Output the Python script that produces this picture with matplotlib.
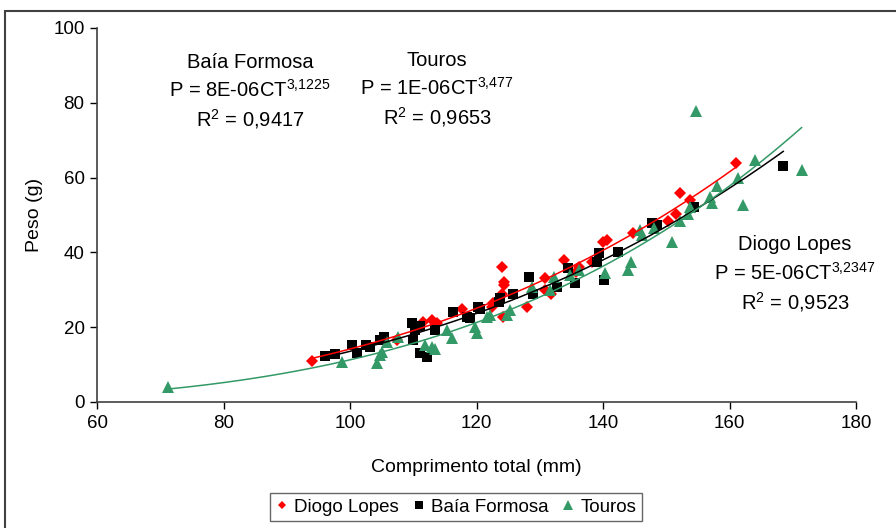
import numpy as np
import matplotlib
matplotlib.use("Agg")
import matplotlib.pyplot as plt
from matplotlib.lines import Line2D
from matplotlib.patches import Rectangle

plt.rcParams['font.family'] = ['Liberation Sans', 'DejaVu Sans']
plt.rcParams['mathtext.fontset'] = 'custom'
plt.rcParams['mathtext.rm'] = 'Liberation Sans'
plt.rcParams['mathtext.default'] = 'regular'

# ---- data ----
dl_x = [94.0, 107.4, 111.6, 112.9, 113.7, 117.7, 122.4, 122.6, 124.0, 124.3, 124.4, 124.0,
        124.2, 128.0, 130.8, 130.8, 131.8, 133.8, 136.2, 135.8, 138.3, 140.0, 140.6, 144.8,
        150.2, 151.5, 152.2, 153.8, 161.0]
dl_y = [11.0, 16.6, 21.5, 21.9, 21.0, 25.0, 25.5, 26.4, 36.2, 32.2, 31.3, 29.0,
        22.8, 25.5, 33.1, 29.9, 29.0, 38.0, 36.2, 34.8, 37.3, 42.9, 43.3, 45.3,
        48.5, 50.2, 55.8, 54.0, 63.8]

bf_x = [96.0, 97.6, 100.3, 101.1, 102.6, 103.2, 104.7, 105.3, 109.8, 110.0, 110.3, 111.0,
        111.1, 112.1, 113.4, 116.3, 118.5, 119.0, 120.3, 120.6, 123.7, 123.5, 125.8, 128.3,
        129.0, 132.7, 134.5, 135.6, 139.0, 139.3, 140.1, 142.4, 147.8, 148.5, 154.4, 168.5]
bf_y = [12.3, 12.8, 15.2, 13.0, 15.2, 14.8, 16.6, 17.3, 21.0, 16.6, 19.3, 20.4,
        13.0, 12.1, 19.3, 24.1, 22.8, 22.4, 25.5, 25.0, 27.7, 26.8, 29.0, 33.5,
        29.0, 30.8, 35.7, 31.9, 37.5, 39.8, 32.6, 40.2, 47.8, 47.3, 52.2, 63.1]

to_x = [71.3, 98.7, 104.2, 104.7, 105.0, 105.8, 107.6, 111.9, 112.9, 113.4, 115.3, 116.1,
        119.8, 120.0, 121.6, 122.1, 124.8, 125.3, 128.7, 131.6, 132.2, 134.8, 136.2, 140.3,
        144.0, 144.5, 145.9, 146.1, 148.0, 150.9, 152.2, 153.5, 153.8, 154.7, 156.9, 157.2,
        158.0, 161.4, 162.2, 164.0, 171.4]
to_y = [4.0, 10.8, 10.3, 12.6, 13.4, 16.1, 17.5, 15.2, 14.8, 14.3, 19.3, 17.0,
        20.1, 18.4, 22.8, 23.3, 23.3, 24.6, 30.8, 29.9, 33.5, 34.0, 35.3, 34.4,
        35.3, 37.5, 46.0, 44.7, 46.6, 42.9, 48.5, 50.4, 52.2, 77.9, 54.9, 53.1,
        57.8, 59.8, 52.7, 64.7, 62.0]

series_names = ["Diogo Lopes", "Baía Formosa", "Touros"]
x_ticks = [60, 80, 100, 120, 140, 160, 180]
y_ticks = [0, 20, 40, 60, 80, 100]

RED = '#FF0000'
BLACK = '#000000'
GREEN = '#339966'

W, H = 896, 528
fig = plt.figure(figsize=(W / 100, H / 100), dpi=100)
ax = fig.add_axes([97 / W, 1 - 402 / H, (856 - 97) / W, (402 - 28) / H])

def trend(xs, ys):
    xs = np.asarray(xs); ys = np.asarray(ys)
    b, la = np.polyfit(np.log(xs), np.log(ys), 1)
    xx = np.linspace(xs.min(), xs.max(), 200)
    return xx, np.exp(la) * xx ** b

series = [
    (dl_x, dl_y, RED, 'D', 6.4),
    (bf_x, bf_y, BLACK, 's', 6.8),
    (to_x, to_y, GREEN, '^', 8.2),
]
for xs, ys, c, m, ms in series:
    ax.plot(xs, ys, linestyle='none', marker=m, color=c, markersize=ms,
            markeredgewidth=0, zorder=3)
for xs, ys, c, m, ms in series:
    xx, yy = trend(xs, ys)
    ax.plot(xx, yy, color=c, linewidth=1.1, zorder=4)

ax.set_xlim(60, 180)
ax.set_ylim(0, 100)
ax.set_xticks(x_ticks)
ax.set_yticks(y_ticks)
ax.tick_params(direction='out', length=5, width=1, labelsize=13.5, colors='black', pad=4)
for s in ['top', 'right']:
    ax.spines[s].set_visible(False)
for s in ['left', 'bottom']:
    ax.spines[s].set_color('#404040')
    ax.spines[s].set_linewidth(1.2)

ax.set_xlabel("Comprimento total (mm)", fontsize=14, labelpad=20)
ax.set_ylabel("Peso (g)", fontsize=14, labelpad=7)

fs = 14.5
def block(xc, y0, title, eq_base, eq_exp, r2):
    fig.text(xc / W, 1 - y0 / H, title, ha='center', va='center', fontsize=fs)
    fig.text(xc / W, 1 - (y0 + 28) / H, eq_base + "$^{" + eq_exp + "}$",
             ha='center', va='center', fontsize=fs)
    fig.text(xc / W, 1 - (y0 + 57) / H, "R$^{2}$ = " + r2, ha='center', va='center', fontsize=fs)

block(250, 62, "Baía Formosa", "P = 8E-06CT", "3{,}1225", "0,9417")
block(437, 60, "Touros", "P = 1E-06CT", "3{,}477", "0,9653")
block(795, 245, "Diogo Lopes", "P = 5E-06CT", "3{,}2347", "0,9523")

# outer chart border
fig.patches.append(Rectangle((5 / W, -0.05), 1.0, 1 - 11 / H + 0.05, transform=fig.transFigure,
                             fill=False, edgecolor='#404040', linewidth=1.5))

handles = [Line2D([], [], linestyle='none', marker='D', color=RED, markersize=4.5, markeredgewidth=0),
           Line2D([], [], linestyle='none', marker='s', color=BLACK, markersize=5.5, markeredgewidth=0),
           Line2D([], [], linestyle='none', marker='^', color=GREEN, markersize=6.5, markeredgewidth=0)]
leg = fig.legend(handles, series_names, loc='center', bbox_to_anchor=(456 / W, 1 - 507 / H),
                 ncol=3, frameon=True, fancybox=False, fontsize=13.5, handlelength=0.7,
                 handletextpad=0.3, columnspacing=0.7, borderpad=0.3, borderaxespad=0)
leg.get_frame().set_edgecolor('#404040')
leg.get_frame().set_linewidth(1.0)

fig.savefig("out.png", dpi=100)
